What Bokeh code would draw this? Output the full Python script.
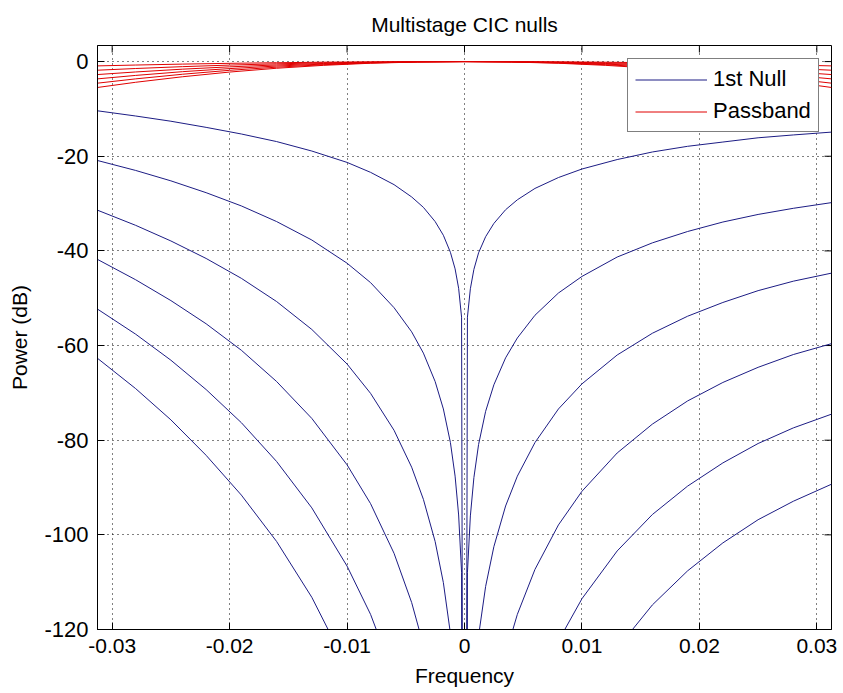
import math
from bokeh.plotting import figure
from bokeh.models import Range1d, FixedTicker, Legend, LegendItem
from bokeh.embed import file_html
from bokeh.resources import INLINE

title_text = "Multistage CIC nulls"
x_label = "Frequency"
y_label = "Power (dB)"

x_min, x_max = -0.03125, 0.03125
y_min, y_max = -120, 3.4

x_ticks = [-0.03, -0.02, -0.01, 0.0, 0.01, 0.02, 0.03]
x_tick_labels = ["-0.03", "-0.02", "-0.01", "0", "0.01", "0.02", "0.03"]
y_ticks = [-120, -100, -80, -60, -40, -20, 0]
y_tick_labels = ["-120", "-100", "-80", "-60", "-40", "-20", "0"]

# frequency offset around the first null
null_freq = [-0.03125, -0.028, -0.025, -0.022, -0.019, -0.016, -0.013, -0.010, -0.008,
             -0.006, -0.0045, -0.0035, -0.0025, -0.0018, -0.0012, -0.0008, -0.0005,
             -0.00025, 0.0, 0.00025, 0.0005, 0.0008, 0.0012, 0.0018, 0.0025, 0.0035,
             0.0045, 0.006, 0.008, 0.010, 0.013, 0.016, 0.019, 0.022, 0.025, 0.028, 0.03125]

null_stage1 = [-10.4, -11.5, -12.6, -13.9, -15.3, -16.9, -18.9, -21.3, -23.4, -26.0, -28.6,
               -30.8, -33.8, -36.7, -40.3, -43.8, -47.9, -54.0, -318.0, -54.0, -48.0, -43.9,
               -40.4, -37.0, -34.2, -31.3, -29.2, -26.8, -24.5, -22.7, -20.7, -19.1, -17.9,
               -17.0, -16.1, -15.5, -14.9]
null_stage2 = [-20.9, -23.0, -25.2, -27.7, -30.5, -33.8, -37.7, -42.6, -46.7, -52.0, -57.1,
               -61.6, -67.6, -73.4, -80.5, -87.6, -95.8, -107.9, -636.0, -108.0, -96.0, -87.9,
               -80.9, -73.9, -68.3, -62.6, -58.4, -53.6, -48.9, -45.4, -41.3, -38.3, -35.9,
               -33.9, -32.3, -31.0, -29.8]
null_stage3 = [-31.4, -34.6, -37.9, -41.6, -45.8, -50.7, -56.6, -63.9, -70.1, -77.9, -85.7,
               -92.5, -101.4, -110.1, -120.8, -131.5, -143.8, -161.9, -954.0, -162.0, -144.0,
               -131.8, -121.3, -110.9, -102.5, -93.9, -87.6, -80.5, -73.4, -68.1, -62.0,
               -57.4, -53.8, -50.9, -48.4, -46.4, -44.7]
null_stage4 = [-41.8, -46.1, -50.5, -55.4, -61.0, -67.6, -75.4, -85.2, -93.4, -103.9, -114.3,
               -123.3, -135.2, -146.8, -161.1, -175.3, -191.7, -215.8, -1272.0, -216.0, -192.0,
               -175.7, -161.8, -147.8, -136.6, -125.2, -116.8, -107.3, -97.9, -90.8, -82.7,
               -76.6, -71.7, -67.8, -64.6, -61.9, -59.6]
null_stage5 = [-52.3, -57.6, -63.1, -69.3, -76.3, -84.5, -94.3, -106.6, -116.8, -129.9, -142.9,
               -154.1, -169.1, -183.6, -201.4, -219.1, -239.6, -269.8, -1590.0, -270.0, -240.0,
               -219.7, -202.2, -184.8, -170.8, -156.6, -146.0, -134.1, -122.4, -113.5, -103.4,
               -95.7, -89.7, -84.8, -80.7, -77.4, -74.5]
null_stage6 = [-62.7, -69.1, -75.7, -83.2, -91.6, -101.4, -113.2, -127.9, -140.2, -155.9, -171.4,
               -184.9, -202.9, -220.3, -241.6, -262.9, -287.5, -323.8, -1908.0, -324.0, -287.9,
               -263.6, -242.6, -221.8, -205.0, -187.9, -175.2, -160.9, -146.8, -136.2, -124.0,
               -114.8, -107.6, -101.7, -96.8, -92.9, -89.3]

pass_freq = [-0.03125, -0.028, -0.024, -0.020, -0.016, -0.012, -0.008, -0.004, 0.0,
             0.004, 0.008, 0.012, 0.016, 0.020, 0.024, 0.028, 0.03125]
pass_stage1 = [-0.91, -0.73, -0.53, -0.37, -0.24, -0.13, -0.06, -0.01, 0.0,
               -0.01, -0.06, -0.13, -0.24, -0.37, -0.53, -0.73, -0.91]
pass_stage2 = [-1.82, -1.46, -1.07, -0.74, -0.47, -0.26, -0.12, -0.03, 0.0,
               -0.03, -0.12, -0.26, -0.47, -0.74, -1.07, -1.46, -1.82]
pass_stage3 = [-2.74, -2.19, -1.60, -1.11, -0.71, -0.40, -0.18, -0.04, 0.0,
               -0.04, -0.18, -0.40, -0.71, -1.11, -1.60, -2.19, -2.74]
pass_stage4 = [-3.65, -2.92, -2.13, -1.48, -0.94, -0.53, -0.23, -0.06, 0.0,
               -0.06, -0.23, -0.53, -0.94, -1.48, -2.13, -2.92, -3.65]
pass_stage5 = [-4.56, -3.65, -2.67, -1.84, -1.18, -0.66, -0.29, -0.07, 0.0,
               -0.07, -0.29, -0.66, -1.18, -1.84, -2.67, -3.65, -4.56]
pass_stage6 = [-5.47, -4.37, -3.20, -2.21, -1.41, -0.79, -0.35, -0.09, 0.0,
               -0.09, -0.35, -0.79, -1.41, -2.21, -3.20, -4.37, -5.47]

legend_labels = ["1st Null", "Passband"]

FONT = "Liberation Sans"
BLUE = "#1c1c84"
RED = "#e00000"

p = figure(width=843, height=693, x_range=Range1d(x_min, x_max),
           y_range=Range1d(y_min, y_max), output_backend="svg", toolbar_location=None,
           min_border_left=97, min_border_right=12, min_border_top=44, min_border_bottom=64)
p.background_fill_color = "white"
p.border_fill_color = "white"
p.outline_line_color = "black"
p.outline_line_width = 1

p.title.text = title_text
p.title.align = "center"
p.title.text_font = FONT
p.title.text_font_size = "21px"
p.title.text_font_style = "normal"
p.title.text_color = "black"
p.title.standoff = 20

xt = FixedTicker(ticks=x_ticks)
yt = FixedTicker(ticks=y_ticks)

for ax, tk, labs in ((p.xaxis[0], xt, x_tick_labels), (p.yaxis[0], yt, y_tick_labels)):
    ax.ticker = tk
    ax.major_label_overrides = dict(zip(tk.ticks, labs))
    ax.major_tick_in = 7
    ax.major_tick_out = 0
    ax.minor_tick_in = 0
    ax.minor_tick_out = 0
    ax.axis_line_color = "black"
    ax.major_tick_line_color = "black"
    ax.major_label_text_font = FONT
    ax.major_label_text_font_size = "21px"
    ax.major_label_text_color = "black"
    ax.axis_label_text_font = FONT
    ax.axis_label_text_font_size = "21px"
    ax.axis_label_text_font_style = "normal"
    ax.axis_label_text_color = "black"

p.yaxis.major_label_text_font_size = "22px"
p.xaxis.axis_label = x_label
p.yaxis.axis_label = y_label
p.xaxis.major_label_standoff = 9
p.xaxis.axis_label_standoff = 8
p.yaxis.major_label_standoff = 9
p.yaxis.axis_label_standoff = 10

for g in (p.xgrid[0], p.ygrid[0]):
    g.grid_line_color = "black"
    g.grid_line_dash = "1 4"
    g.grid_line_width = 1
    g.grid_line_alpha = 1.0
p.xgrid.ticker = xt
p.ygrid.ticker = yt

# inward tick marks on the top and right box edges
p.ray(x=x_ticks, y=[y_max] * len(x_ticks), length=7, length_units="screen",
      angle=-math.pi / 2, line_color="black", line_width=1)
p.ray(x=[x_max] * len(y_ticks), y=y_ticks, length=7, length_units="screen",
      angle=math.pi, line_color="black", line_width=1)

blue_renderers = []
for ys in (null_stage1, null_stage2, null_stage3, null_stage4, null_stage5, null_stage6):
    blue_renderers.append(p.line(null_freq, ys, line_color=BLUE, line_width=1))

red_renderers = []
for ys in (pass_stage1, pass_stage2, pass_stage3, pass_stage4, pass_stage5, pass_stage6):
    red_renderers.append(p.line(pass_freq, ys, line_color=RED, line_width=1))

legend = Legend(items=[LegendItem(label=legend_labels[0], renderers=[blue_renderers[0]]),
                       LegendItem(label=legend_labels[1], renderers=[red_renderers[0]])],
                location=(530, 497))
legend.border_line_color = "black"
legend.border_line_width = 1
legend.background_fill_color = "white"
legend.background_fill_alpha = 1.0
legend.label_text_font = FONT
legend.label_text_font_size = "22px"
legend.label_text_color = "black"
legend.padding = 7
legend.spacing = 6
legend.glyph_width = 72
legend.glyph_height = 23
legend.label_height = 23
legend.label_standoff = 6
legend.label_width = 94
legend.margin = 0
p.add_layout(legend)

open("out.html", "w").write(file_html(p, INLINE))
